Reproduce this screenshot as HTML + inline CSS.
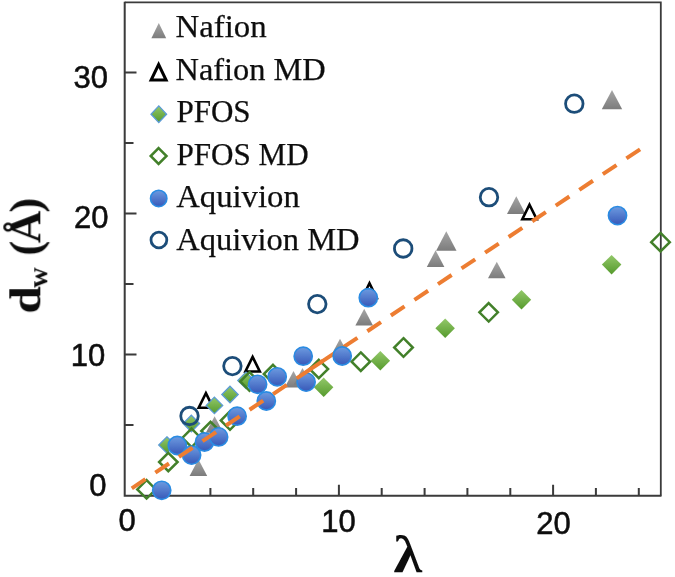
<!DOCTYPE html>
<html><head><meta charset="utf-8"><title>dw vs lambda</title>
<style>
html,body{margin:0;padding:0;background:#fff;}
svg{display:block;}
.ax{stroke:#3a3a3a;fill:none;}
.tl{font-family:"Liberation Sans",sans-serif;font-size:31px;fill:#0c0c0c;stroke:#0c0c0c;stroke-width:0.55;}
.lg{font-family:"Liberation Serif",serif;font-size:31px;fill:#111;stroke:#111;stroke-width:0.25;}
.nt{fill:url(#gg);}
.nm{fill:#fff;stroke:#000;stroke-width:2.6;stroke-linejoin:miter;}
.pf{fill:url(#gn);}
.pb{fill:url(#gn);stroke:#5b9bd5;stroke-width:1.3;}
.pm{fill:none;stroke:#43802a;stroke-width:2.5;}
.aq{fill:url(#gb);stroke:#2b8be2;stroke-width:1.6;}
.am{fill:none;stroke:#1f4e79;stroke-width:2.8;}
.tr{stroke:#ed7d31;stroke-width:4;fill:none;}
</style></head><body>
<svg width="675" height="577" viewBox="0 0 675 577">
<defs>
<linearGradient id="gg" x1="0" y1="0" x2="0" y2="1"><stop offset="0" stop-color="#a6a6a6"/><stop offset="1" stop-color="#7c7c7c"/></linearGradient>
<linearGradient id="gn" x1="0" y1="0" x2="0" y2="1"><stop offset="0" stop-color="#93c86a"/><stop offset="1" stop-color="#559a2c"/></linearGradient>
<linearGradient id="gb" x1="0" y1="0" x2="0" y2="1"><stop offset="0" stop-color="#6d9be0"/><stop offset="1" stop-color="#3758b8"/></linearGradient>
<filter id="bl" x="-5%" y="-5%" width="110%" height="110%"><feGaussianBlur stdDeviation="0.45"/></filter>
</defs>
<rect width="675" height="577" fill="#fff"/>
<g filter="url(#bl)">

<path class="ax" stroke-width="1.8" d="M124.7 2.4H660.8V495.7"/>
<path class="ax" stroke-width="2" d="M124.7 1.7V495.7H661.5"/>
<path class="ax" stroke-width="2" d="M167.5 495.7v-7.6M210.4 495.7v-7.6M253.2 495.7v-7.6M296.1 495.7v-7.6M338.9 495.7v-11M381.7 495.7v-7.6M424.6 495.7v-7.6M467.4 495.7v-7.6M510.3 495.7v-7.6M553.1 495.7v-11M595.9 495.7v-7.6M638.8 495.7v-7.6M124.7 425.1h8.8M124.7 354.6h11.8M124.7 284.1h8.8M124.7 213.5h11.8M124.7 142.9h8.8M124.7 72.4h11.8"/>
<text class="tl" text-anchor="middle" x="90.8" y="87.5">30</text>
<text class="tl" text-anchor="middle" x="91.3" y="228.2">20</text>
<text class="tl" text-anchor="middle" x="88" y="366.2">10</text>
<text class="tl" text-anchor="middle" x="97.8" y="496.2">0</text>
<text class="tl" text-anchor="middle" x="127" y="531.2">0</text>
<text class="tl" text-anchor="middle" x="338.5" y="532.2">10</text>
<text class="tl" text-anchor="middle" x="553.5" y="533.7">20</text>
<g transform="translate(40.3,313.2) rotate(-90)" font-family="&quot;Liberation Serif&quot;,serif" font-weight="bold" font-size="45px" fill="#111"><text x="-0.5" y="0" textLength="27.5" lengthAdjust="spacingAndGlyphs">d</text><text x="25.6" y="7" font-size="28px">w</text><text x="57.6" y="0">(</text><text x="70.1" y="0">Å</text><text x="100.6" y="0">)</text></g>
<text transform="translate(407.9,572.2) scale(1.12,1.02)" x="0" y="0" text-anchor="middle" font-family="&quot;Liberation Serif&quot;,serif" font-weight="bold" font-size="52px" fill="#111">λ</text>
<text class="lg" x="175.5" y="37.099999999999994" textLength="91.2" lengthAdjust="spacingAndGlyphs">Nafion</text>
<text class="lg" x="175.5" y="80.3" textLength="150.2" lengthAdjust="spacingAndGlyphs">Nafion MD</text>
<text class="lg" x="176.4" y="122.3" textLength="74.2" lengthAdjust="spacingAndGlyphs">PFOS</text>
<text class="lg" x="176.4" y="164.70000000000002" textLength="132.2" lengthAdjust="spacingAndGlyphs">PFOS MD</text>
<text class="lg" x="176.2" y="207.3" textLength="123.6" lengthAdjust="spacingAndGlyphs">Aquivion</text>
<text class="lg" x="176.2" y="249.8" textLength="183.4" lengthAdjust="spacingAndGlyphs">Aquivion MD</text>
<path class="nt" d="M158.8 22.9L166.2 38.3L151.4 38.3Z"/>
<path class="nm" style="stroke-width:3" d="M158.6 64.5L166.1 80.1L151.1 80.1Z"/>
<path class="pb" d="M158.8 105.9L166.6 114.2L158.8 122.5L151 114.2Z"/>
<path class="pm" d="M158.6 148.1L166.5 156.0L158.6 163.9L150.7 156.0Z"/>
<circle class="aq" cx="158.7" cy="198.4" r="8.20"/>
<circle class="am" cx="158.9" cy="240.0" r="7.90"/>
<path class="nt" d="M198.4 459.3L207.2 475.9L189.6 475.9Z"/>
<path class="nt" d="M214.6 416.2L223.4 432.8L205.8 432.8Z"/>
<path class="nt" d="M293.5 371.0L302.3 387.6L284.7 387.6Z"/>
<path class="nt" d="M302.5 368.0L311.3 384.6L293.7 384.6Z"/>
<path class="nt" d="M340.0 338.7L348.8 355.3L331.2 355.3Z"/>
<path class="nt" d="M364.2 308.8L373.0 325.4L355.4 325.4Z"/>
<path class="nt" d="M435.6 250.3L444.4 266.9L426.8 266.9Z"/>
<path class="nt" d="M446.3 231.3L456.5 250.7L436.1 250.7Z"/>
<path class="nt" d="M496.8 261.7L505.6 278.3L488.0 278.3Z"/>
<path class="nt" d="M516.3 196.2L525.5 214.0L507.0 214.0Z"/>
<path class="nt" d="M612.0 89.9L622.2 109.3L601.8 109.3Z"/>
<path class="nm" d="M205.9 393.1L213.1 407.7L198.7 407.7Z"/>
<path class="nm" d="M252.6 356.9L259.8 371.5L245.4 371.5Z"/>
<path class="nm" d="M369.5 283.3L376.7 297.9L362.3 297.9Z"/>
<path class="nm" d="M529.5 204.7L536.7 219.3L522.3 219.3Z"/>
<path class="pb" d="M166.9 436.8L175.2 445.0L166.9 453.2L158.7 445.0Z"/>
<path class="pb" d="M191.3 415.2L199.6 423.5L191.3 431.8L183.1 423.5Z"/>
<path class="pb" d="M214.4 397.1L222.7 405.4L214.4 413.6L206.2 405.4Z"/>
<path class="pb" d="M230.0 386.2L238.2 394.5L230.0 402.8L221.8 394.5Z"/>
<path class="pb" d="M246.0 372.1L254.2 380.4L246.0 388.6L237.8 380.4Z"/>
<path class="pf" d="M323.7 377.6L333.4 387.3L323.7 397.1L313.9 387.3Z"/>
<path class="pf" d="M380.3 351.1L390.1 360.8L380.3 370.6L370.6 360.8Z"/>
<path class="pf" d="M445.2 318.6L454.9 328.3L445.2 338.1L435.4 328.3Z"/>
<path class="pf" d="M521.5 290.1L531.2 299.8L521.5 309.6L511.8 299.8Z"/>
<path class="pf" d="M611.6 254.9L621.4 264.6L611.6 274.4L601.9 264.6Z"/>
<path class="pm" d="M146.6 480.1L155.8 489.4L146.6 498.6L137.3 489.4Z"/>
<path class="pm" d="M168.3 452.8L177.6 462.0L168.3 471.2L159.1 462.0Z"/>
<path class="pm" d="M191.6 428.6L200.8 437.9L191.6 447.1L182.3 437.9Z"/>
<path class="pm" d="M210.6 421.8L219.8 431.0L210.6 440.2L201.3 431.0Z"/>
<path class="pm" d="M230.0 411.2L239.2 420.5L230.0 429.8L220.8 420.5Z"/>
<path class="pm" d="M249.5 372.2L258.8 381.5L249.5 390.8L240.2 381.5Z"/>
<path class="pm" d="M273.0 364.8L282.2 374.0L273.0 383.2L263.8 374.0Z"/>
<path class="pm" d="M318.8 359.8L328.1 369.0L318.8 378.2L309.6 369.0Z"/>
<path class="pm" d="M360.8 352.4L370.1 361.7L360.8 370.9L351.6 361.7Z"/>
<path class="pm" d="M403.5 338.2L412.8 347.5L403.5 356.8L394.2 347.5Z"/>
<path class="pm" d="M488.7 303.1L497.9 312.3L488.7 321.6L479.4 312.3Z"/>
<path class="pm" d="M660.5 232.9L669.8 242.2L660.5 251.4L651.2 242.2Z"/>
<circle class="aq" cx="161.7" cy="490.3" r="9.10"/>
<circle class="aq" cx="177.3" cy="445.5" r="9.10"/>
<circle class="aq" cx="191.6" cy="455.1" r="9.10"/>
<circle class="aq" cx="204.5" cy="442.0" r="9.10"/>
<circle class="aq" cx="218.6" cy="436.9" r="9.10"/>
<circle class="aq" cx="237.1" cy="416.2" r="9.10"/>
<circle class="aq" cx="257.6" cy="384.3" r="9.10"/>
<circle class="aq" cx="266.3" cy="401.0" r="9.10"/>
<circle class="aq" cx="277.2" cy="376.8" r="9.10"/>
<circle class="aq" cx="303.2" cy="356.2" r="9.10"/>
<circle class="aq" cx="306.1" cy="382.1" r="9.10"/>
<circle class="aq" cx="368.3" cy="297.7" r="9.10"/>
<circle class="aq" cx="617.5" cy="215.6" r="9.10"/>
<circle class="am" cx="189.5" cy="416.0" r="8.75"/>
<circle class="am" cx="232.4" cy="366.1" r="8.75"/>
<circle class="am" cx="317.3" cy="304.1" r="8.75"/>
<circle class="am" cx="403.2" cy="248.5" r="8.75"/>
<circle class="am" cx="489.0" cy="197.2" r="8.75"/>
<circle class="am" cx="574.3" cy="103.7" r="8.75"/>
<path class="tr" stroke-dasharray="16.4 11.91" d="M131.8 488.3L641.2 148.6"/>
<path class="tr" d="M309 370.1L323 360.8"/>
<circle class="aq" cx="342.2" cy="356.0" r="9.10"/>
</g></svg></body></html>
